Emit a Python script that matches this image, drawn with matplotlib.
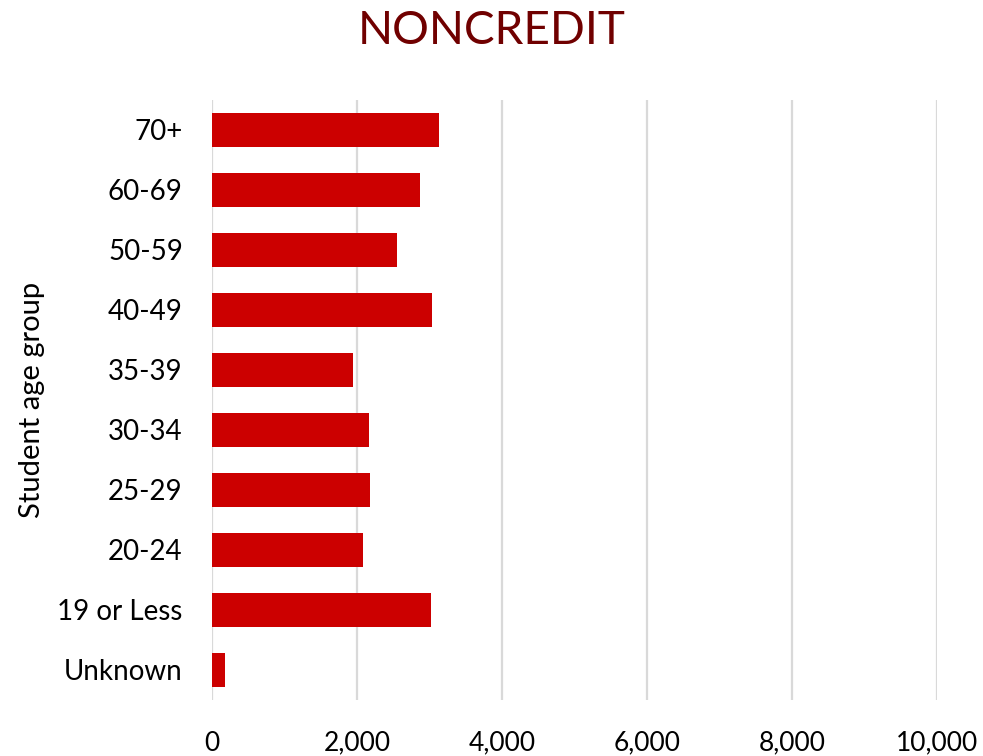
import matplotlib
matplotlib.use("Agg")
import matplotlib.pyplot as plt
from matplotlib.ticker import FuncFormatter

plt.rcParams["font.family"] = ["Lato", "DejaVu Sans"]

age_groups = ["Unknown", "19 or Less", "20-24", "25-29", "30-34",
              "35-39", "40-49", "50-59", "60-69", "70+"]
students = [184, 3025, 2087, 2175, 2170, 1945, 3034, 2552, 2869, 3135]
x_ticks = [0, 2000, 4000, 6000, 8000, 10000]

fig = plt.figure(figsize=(9.83, 7.56), dpi=100)
ax = fig.add_axes([212 / 983, 1 - 700 / 756, 725 / 983, 600 / 756])

ax.barh(age_groups, students, height=0.57, color="#CC0000", zorder=3)

ax.set_xlim(0, 10000)
ax.set_ylim(-0.5, len(age_groups) - 0.5)
ax.set_xticks(x_ticks)
ax.xaxis.set_major_formatter(FuncFormatter(lambda v, _: f"{v:,.0f}"))
ax.grid(axis="x", color="#D9D9D9", linewidth=1.6, zorder=0)
ax.grid(axis="y", visible=False)
for side in ["top", "right", "bottom", "left"]:
    ax.spines[side].set_visible(False)
ax.tick_params(axis="both", length=0, colors="black")
ax.tick_params(axis="x", labelsize=19, pad=22)
ax.tick_params(axis="y", labelsize=20, pad=21)

ax.set_ylabel("Student age group", fontsize=21, labelpad=9)
fig.text(0.5, 1 - 31 / 756, "NONCREDIT", ha="center", va="center",
         fontsize=33, color="#700000")

fig.savefig("out.png", dpi=100)
